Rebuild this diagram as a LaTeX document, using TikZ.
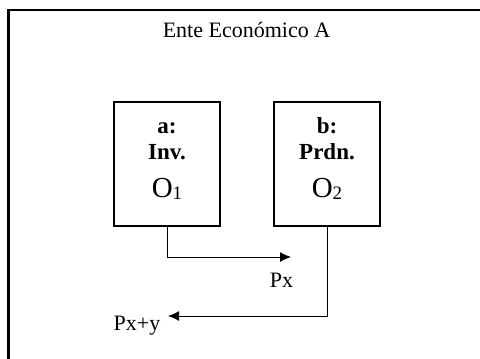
\documentclass[tikz,border=0pt]{standalone}
\usepackage{fontspec}
\setmainfont{Liberation Serif}
\usetikzlibrary{arrows.meta}
\begin{document}
\begin{tikzpicture}[x=1pt,y=-1pt,
  frame/.style={draw=black,line width=2.6pt},
  obox/.style={draw=black,line width=2.6pt,rectangle,inner sep=0pt,minimum width=106pt,minimum height=124pt},
  blabel/.style={anchor=base,inner sep=0pt,font=\fontsize{23}{23}\selectfont\bfseries},
  olabel/.style={anchor=base,inner sep=0pt,font=\fontsize{29}{29}\selectfont},
  tlabel/.style={anchor=base,inner sep=0pt,font=\fontsize{22}{22}\selectfont},
  flow/.style={draw=black,line width=1pt,-{Latex[length=11pt,width=10pt]}}]
\useasboundingbox (0,0) rectangle (480,359);
\clip (0,0) rectangle (480,359);
\draw[frame] (8.5,10) rectangle (500,380);
\node[tlabel] (title) at (246.5,37) {Ente Económico A};
\node[obox] (box1) at (167,164) {};
\node[obox] (box2) at (327,164) {};
\node[blabel] (a) at (167,133) {a:};
\node[blabel] (inv) at (167,159) {Inv.};
\node[olabel] (o1) at (167,197) {O\raisebox{-2pt}{\fontsize{19}{19}\selectfont 1}};
\node[blabel] (b) at (327,133) {b:};
\node[blabel] (prdn) at (327,159) {Prdn.};
\node[olabel] (o2) at (327,197) {O\raisebox{-2pt}{\fontsize{19}{19}\selectfont 2}};
\coordinate (pxend) at (291,257);
\coordinate (pxyend) at (168,316);
\draw[flow] (box1.south) |- (pxend);
\draw[flow] (box2.south) |- (pxyend);
\node[tlabel] (px) at (281.5,287) {Px};
\node[tlabel] (pxy) at (137,330) {Px+y};
\end{tikzpicture}
\end{document}
